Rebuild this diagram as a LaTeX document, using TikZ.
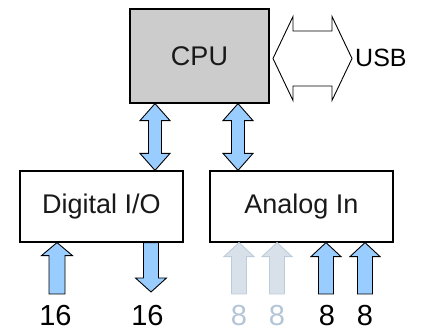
\documentclass[tikz,border=0pt]{standalone}
\usepackage{fontspec}
\setmainfont{Liberation Sans}
\usetikzlibrary{calc}
\definecolor{cpugray}{HTML}{CCCCCC}
\definecolor{busblue}{HTML}{99CCFF}
\definecolor{offfill}{HTML}{D8E1E9}
\definecolor{offline}{HTML}{BDCCDA}
\definecolor{offtext}{HTML}{B3C5D7}

% block arrow: tail #2, tip #3, shaft half width #4, head half width #5, head length #6
\newcommand{\fatarrow}[6][]{%
  \coordinate (h) at ($(#3)!#6!(#2)$);
  \draw[#1] ($(#2)!#4!90:(#3)$) -- ($(h)!#4!90:(#3)$) -- ($(h)!#5!90:(#3)$) -- (#3)
    -- ($(h)!#5!-90:(#3)$) -- ($(h)!#4!-90:(#3)$) -- ($(#2)!#4!-90:(#3)$) -- cycle;
}
% block arrow with two heads
\newcommand{\fatdarrow}[6][]{%
  \coordinate (ha) at ($(#2)!#6!(#3)$);
  \coordinate (hb) at ($(#3)!#6!(#2)$);
  \draw[#1] (#2) -- ($(ha)!#5!90:(#3)$) -- ($(ha)!#4!90:(#3)$) -- ($(hb)!#4!-90:(#2)$)
    -- ($(hb)!#5!-90:(#2)$) -- (#3) -- ($(hb)!#5!90:(#2)$) -- ($(hb)!#4!90:(#2)$)
    -- ($(ha)!#4!-90:(#3)$) -- ($(ha)!#5!-90:(#3)$) -- cycle;
}

\begin{document}
\begin{tikzpicture}[x=1pt,y=1pt,
    box/.style={draw, line width=1.2pt, inner sep=0pt, text=black!90, font=\fontsize{27}{30}\selectfont},
    num/.style={inner sep=0pt, font=\fontsize{29}{32}\selectfont},
    bus/.style={draw, fill=busblue, line width=0.9pt, line join=miter},
    off/.style={draw=offline, fill=offfill, line width=0.9pt, line join=miter},
    usbline/.style={draw, fill=white, line width=0.9pt, line join=miter}]
    \useasboundingbox (0,0) rectangle (421,332);
    % blocks
    \node[box, fill=cpugray, minimum width=139pt, minimum height=94pt] (cpu) at (199.5,276) {CPU};
    \node[box, minimum width=163pt, minimum height=71pt] (dio) at (101.5,125.5) {Digital I/O};
    \node[box, minimum width=183pt, minimum height=71pt] (ain) at (301.5,125.5) {Analog In};
    \node[anchor=west, inner sep=0pt, font=\fontsize{25}{30}\selectfont] (usb) at (355,274) {USB};
    % channel counts
    \node[num] (n1) at (55.5,16) {16};
    \node[num] (n2) at (147.5,16) {16};
    \node[num, text=offtext] (n3) at (239,16) {8};
    \node[num, text=offtext] (n4) at (277,16) {8};
    \node[num] (n5) at (327,16) {8};
    \node[num] (n6) at (365,16) {8};
    % internal bus
    \coordinate (b1) at (155,0);
    \coordinate (b2) at (238,0);
    \fatdarrow[bus]{b1 |- cpu.south}{b1 |- dio.north}{6.5pt}{15pt}{17pt}
    \fatdarrow[bus]{b2 |- cpu.south}{b2 |- ain.north}{6.5pt}{15pt}{17pt}
    % usb link
    \coordinate (u1) at (273,273.5);
    \coordinate (u2) at (352,273.5);
    \fatdarrow[usbline]{u1}{u2}{27.5pt}{42pt}{20pt}
    % inputs and outputs
    \coordinate (a1) at (57,38);
    \coordinate (a2) at (151,40);
    \coordinate (a3) at (239,38);
    \coordinate (a4) at (277,38);
    \coordinate (a5) at (326,38);
    \coordinate (a6) at (365,38);
    \fatarrow[bus]{a1}{a1 |- dio.south}{8pt}{15.5pt}{13pt}
    \fatarrow[bus]{a2 |- dio.south}{a2}{7.5pt}{15.5pt}{14pt}
    \fatarrow[off]{a3}{a3 |- ain.south}{7.5pt}{15pt}{14pt}
    \fatarrow[off]{a4}{a4 |- ain.south}{7.5pt}{15pt}{14pt}
    \fatarrow[bus]{a5}{a5 |- ain.south}{7.5pt}{15pt}{14pt}
    \fatarrow[bus]{a6}{a6 |- ain.south}{7.5pt}{15pt}{14pt}
\end{tikzpicture}
\end{document}
